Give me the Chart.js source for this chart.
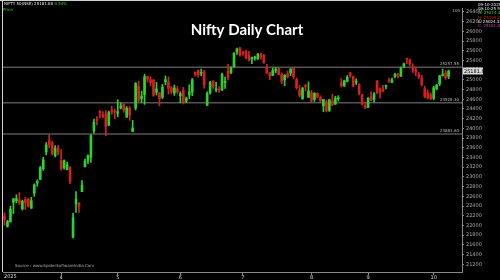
<!DOCTYPE html>
<html lang="en">
<head>
<meta charset="UTF-8">
<title>Nifty Daily Chart</title>
<script src="https://cdn.jsdelivr.net/npm/chart.js"></script>
<style>
    body { margin: 0; background: #000; }
    canvas { display: block; }
</style>
</head>
<body>
<canvas id="niftyChart" width="500" height="280"></canvas>
<script>
// trading days shown on the chart (Mar - Oct 2025)
const dates = [
    '2025-03-03','2025-03-04','2025-03-05','2025-03-06','2025-03-07','2025-03-10','2025-03-11','2025-03-12','2025-03-13','2025-03-17',
    '2025-03-18','2025-03-19','2025-03-20','2025-03-21','2025-03-24','2025-03-25','2025-03-26','2025-03-27','2025-03-28',
    '2025-04-01','2025-04-02','2025-04-03','2025-04-04','2025-04-07','2025-04-08','2025-04-09','2025-04-11','2025-04-15','2025-04-16',
    '2025-04-17','2025-04-21','2025-04-22','2025-04-23','2025-04-24','2025-04-25','2025-04-28','2025-04-29','2025-04-30',
    '2025-05-02','2025-05-05','2025-05-06','2025-05-07','2025-05-08','2025-05-09','2025-05-12','2025-05-13','2025-05-14','2025-05-15',
    '2025-05-16','2025-05-19','2025-05-20','2025-05-21','2025-05-22','2025-05-23','2025-05-26','2025-05-27','2025-05-28','2025-05-29','2025-05-30',
    '2025-06-02','2025-06-03','2025-06-04','2025-06-05','2025-06-06','2025-06-09','2025-06-10','2025-06-11','2025-06-12','2025-06-13',
    '2025-06-16','2025-06-17','2025-06-18','2025-06-19','2025-06-20','2025-06-23','2025-06-24','2025-06-25','2025-06-26','2025-06-27','2025-06-30',
    '2025-07-01','2025-07-02','2025-07-03','2025-07-04','2025-07-07','2025-07-08','2025-07-09','2025-07-10','2025-07-11','2025-07-14',
    '2025-07-15','2025-07-16','2025-07-17','2025-07-18','2025-07-21','2025-07-22','2025-07-23','2025-07-24','2025-07-25','2025-07-28',
    '2025-07-29','2025-07-30','2025-07-31',
    '2025-08-01','2025-08-04','2025-08-05','2025-08-06','2025-08-07','2025-08-08','2025-08-11','2025-08-12','2025-08-13','2025-08-14',
    '2025-08-18','2025-08-19','2025-08-20','2025-08-21','2025-08-22','2025-08-25','2025-08-26','2025-08-28','2025-08-29',
    '2025-09-01','2025-09-02','2025-09-03','2025-09-04','2025-09-05','2025-09-08','2025-09-09','2025-09-10','2025-09-11','2025-09-12',
    '2025-09-15','2025-09-16','2025-09-17','2025-09-18','2025-09-19','2025-09-22','2025-09-23','2025-09-24','2025-09-25','2025-09-26',
    '2025-09-29','2025-09-30',
    '2025-10-01','2025-10-03','2025-10-06','2025-10-07','2025-10-08','2025-10-09'
];
// empty slots on the right of the last candle
const futureDates = ['2025-10-10','2025-10-13','2025-10-14','2025-10-15'];

const opens = [
    22194,21974,22073,22476,22509,22522,22345,22536,22541,22354,22662,22875,22952,23169,23515,23751,23700,23433,23600,
    23342,23192,23150,23191,21758,22446,22460,22695,23207,23344,23401,23949,24185,24357,24277,24289,24070,24370,24342,
    24311,24420,24500,24233,24414,23936,24420,24864,24613,24694,25064,25005,24997,24744,24733,24639,24957,24956,24832,24729,24812,
    24669,24786,24561,24691,24748,25160,25196,25134,25164,24474,24732,24977,24788,24803,24787,24939,25179,25150,25268,25576,25661,
    25551,25588,25505,25428,25450,25427,25514,25511,25256,25149,25090,25196,25230,25108,24999,25127,25139,25243,25011,24783,24609,24891,24642,
    24734,24596,24720,24641,24464,24544,24372,24563,24497,24607,24938,24876,24965,25142,25065,24949,24900,24695,24466,
    24432,24653,24596,24980,24819,24802,24864,24991,24945,25074,25118,25074,25276,25441,25410,25238,25209,25108,25034,24818,24728,24691,
    24620,24815,24916,25085,25140,25074
];
const highs = [
    22261,22105,22394,22557,22633,22676,22522,22577,22558,22577,22857,22940,23216,23403,23708,23869,23736,23646,23649,
    23565,23350,23306,23214,22254,22698,22468,22923,23368,23452,23872,24189,24242,24359,24347,24365,24355,24457,24396,
    24589,24526,24510,24449,24447,24164,24944,24974,24767,25116,25071,25062,25010,24946,24737,24909,25079,25062,24864,24892,24863,
    24754,24845,24644,24899,25029,25160,25199,25223,25196,24754,24967,24982,24947,24863,25137,25057,25318,25266,25561,25654,25669,
    25593,25608,25587,25470,25489,25548,25548,25525,25322,25151,25245,25255,25238,25145,25111,25183,25233,25247,25035,24889,24847,24902,24957,
    24784,24736,24734,24671,24599,24585,24600,24702,24664,24674,25022,24994,25089,25154,25079,25021,24919,24702,24541,
    24636,24756,24737,24980,24833,24885,24891,25036,25037,25139,25140,25261,25346,25448,25429,25331,25262,25151,25093,24868,24791,24731,
    24869,24904,25095,25221,25192,25199
];
const lows = [
    22004,21964,22068,22245,22464,22429,22314,22329,22377,22353,22599,22808,22940,23133,23451,23601,23451,23412,23450,
    23136,23158,23145,22858,21743,22270,22270,22695,23207,23273,23298,23903,24073,24217,24216,23847,24054,24290,24198,
    24238,24400,24331,24220,24164,23936,24378,24547,24535,24494,24953,24875,24660,24685,24462,24614,24900,24704,24715,24678,24717,
    24527,24502,24530,24613,24672,25077,25055,25081,24825,24473,24703,24813,24750,24733,24783,24824,24999,25125,25267,25523,25489,
    25501,25429,25384,25331,25407,25424,25425,25340,25129,25001,25089,25145,25101,24918,24882,25036,25085,25018,24806,24646,24599,24771,24635,
    24535,24554,24627,24539,24344,24338,24347,24463,24496,24563,24852,24860,24957,25054,24859,24903,24689,24481,24404,
    24432,24567,24533,24707,24621,24751,24815,24945,24941,25038,25039,25072,25252,25330,25286,25151,25084,25027,24878,24629,24605,24588,
    24588,24797,24881,25076,25008,25024
];
const closes = [
    22119,22083,22337,22545,22552,22460,22497,22470,22397,22508,22834,22907,23190,23350,23658,23668,23486,23591,23519,
    23165,23332,23250,22904,22161,22535,22399,22828,23328,23437,23851,24125,24167,24328,24246,24039,24328,24336,24334,
    24346,24461,24380,24414,24273,24008,24924,24578,24666,25062,25019,24945,24683,24813,24609,24853,25001,24826,24752,24833,24750,
    24716,24543,24620,24751,25003,25103,25104,25141,24888,24718,24946,24853,24812,24793,25112,24971,25044,25244,25549,25637,25517,
    25541,25453,25405,25461,25461,25523,25476,25355,25150,25082,25196,25212,25111,24968,25091,25061,25220,25062,24837,24681,24821,24855,24768,
    24565,24723,24650,24574,24596,24363,24585,24487,24619,24631,24877,24980,25051,25083,24870,24967,24712,24501,24427,
    24625,24580,24715,24734,24741,24773,24869,24973,25005,25114,25069,25239,25330,25423,25327,25202,25169,25057,24891,24655,24634,24611,
    24836,24894,25077,25108,25046,25181.80
];

// price axis labels
const yTicks = [
    21200,21400,21600,21800,22000,22200,22400,22600,22800,23000,23200,23400,23600,
    23800,24000,24200,24400,24600,24800,25000,25200,25400,25600,25800,26000,26200,26400
];

// support / resistance lines drawn across the chart
const levels = [25257.55, 24528.30, 23883.60];

const yMin = 21040;
const yMax = 26480;

const GREEN = '#2fd12f';
const RED = '#d42020';

function candleColor(ctx) {
    const i = ctx.dataIndex;
    return closes[i] >= opens[i] ? GREEN : RED;
}

// first trading day of every month (after March)
function monthStarts() {
    const idx = [];
    for (let i = 1; i < dates.length; i++) {
        if (dates[i].slice(5, 7) !== dates[i - 1].slice(5, 7)) idx.push(i);
    }
    return idx;
}
const monthIdx = monthStarts();

const decor = {
    id: 'decor',
    beforeDraw(chart) {
        const c = chart.ctx;
        c.save();
        c.fillStyle = '#000';
        c.fillRect(0, 0, chart.width, chart.height);
        c.restore();
    },
    beforeDatasetsDraw(chart) {
        const c = chart.ctx, area = chart.chartArea, y = chart.scales.y;
        c.save();
        c.strokeStyle = '#555';
        c.lineWidth = 1.5;
        c.font = '4px "DejaVu Sans"';
        c.textAlign = 'right';
        c.fillStyle = '#bbb';
        levels.forEach(lv => {
            const py = y.getPixelForValue(lv);
            c.beginPath();
            c.moveTo(area.left, py);
            c.lineTo(area.right, py);
            c.stroke();
            c.fillText(lv.toFixed(2), area.right - 3, py - 2);
        });
        c.restore();
    },
    afterDraw(chart) {
        const c = chart.ctx, area = chart.chartArea, y = chart.scales.y;
        c.save();

        // frame
        c.strokeStyle = '#cfcfcf';
        c.lineWidth = 1;
        c.beginPath();
        c.moveTo(0, 0.5); c.lineTo(chart.width, 0.5);
        c.moveTo(2.5, 0); c.lineTo(2.5, area.bottom);
        c.stroke();

        // title
        c.fillStyle = '#fff';
        c.font = 'bold 15px Lato';
        c.textAlign = 'center';
        c.fillText('Nifty Daily Chart', 247, 35);

        // header
        c.textAlign = 'left';
        c.font = '4px "DejaVu Sans"';
        c.fillStyle = '#e8e8e8';
        const head = 'NIFTY 50(NSE) 25181.80 ';
        c.fillText(head, 4, 5);
        c.fillStyle = GREEN;
        c.fillText('0.54%', 4 + c.measureText(head).width, 5);
        c.fillText('Price', 3, 11);

        // ohlc read-out, top right
        const info = [
            ['09-10-2025', '#e8e8e8'],
            ['09:10:25 %', '#e8e8e8'],
            ['O: 25074.45', GREEN],
            ['H: 25199.25', RED],
            ['L: 25024.30', '#e8e8e8'],
            ['C: 25181.80', '#c040c0']
        ];
        info.forEach((row, k) => {
            c.fillStyle = row[1];
            c.fillText(row[0], 478, 6 + k * 4.2);
        });
        c.fillStyle = '#bbb';
        c.textAlign = 'right';
        c.fillText('100', 460, 12);

        // source
        c.textAlign = 'left';
        c.fillStyle = '#aaa';
        c.fillText('Source : www.SpiderSoftwareIndia.Com', 15, 267);
        c.font = '5px "DejaVu Sans"';
        c.fillStyle = '#ddd';
        c.fillText('2025', 4, 278);

        // last price marker on the axis
        const last = closes[closes.length - 1];
        const py = y.getPixelForValue(last);
        c.fillStyle = '#d8d8d8';
        c.fillRect(area.right + 1, py - 3.5, 20, 7);
        c.fillStyle = '#000';
        c.textBaseline = 'middle';
        c.fillText(last.toFixed(2), area.right + 2, py + 0.5);
        c.restore();
    }
};

new Chart(document.getElementById('niftyChart'), {
    type: 'bar',
    data: {
        labels: dates.concat(futureDates),
        datasets: [
            {
                label: 'Body',
                data: dates.map((d, i) => [Math.min(opens[i], closes[i]), Math.max(opens[i], closes[i])]),
                backgroundColor: candleColor,
                barThickness: 2,
                minBarLength: 1,
                grouped: false
            },
            {
                label: 'Wick',
                data: dates.map((d, i) => [lows[i], highs[i]]),
                backgroundColor: candleColor,
                barThickness: 1,
                grouped: false
            }
        ]
    },
    options: {
        responsive: false,
        devicePixelRatio: 1,
        animation: false,
        layout: { padding: { left: 3, top: 8, right: 0, bottom: 0 } },
        plugins: { legend: { display: false }, tooltip: { enabled: false } },
        scales: {
            x: {
                offset: true,
                grid: { offset: false, drawOnChartArea: false, drawTicks: true, tickLength: 3, color: '#888' },
                border: { color: '#888' },
                ticks: {
                    autoSkip: false,
                    maxRotation: 0,
                    padding: 0,
                    color: '#ddd',
                    font: { size: 5, family: 'DejaVu Sans' },
                    callback(value) {
                        return String(parseInt(this.getLabelForValue(value).slice(5, 7), 10));
                    }
                },
                afterBuildTicks(scale) {
                    scale.ticks = scale.ticks.filter(t => monthIdx.includes(t.value));
                },
                afterFit(scale) { scale.height = 8; }
            },
            y: {
                position: 'right',
                min: yMin,
                max: yMax,
                grid: { drawOnChartArea: false, drawTicks: true, tickLength: 2, color: '#888' },
                border: { color: '#888' },
                ticks: {
                    autoSkip: false,
                    padding: 2,
                    color: '#aaa',
                    font: { size: 5, family: 'DejaVu Sans' },
                    callback: v => String(v)
                },
                afterBuildTicks(scale) {
                    scale.ticks = yTicks.map(v => ({ value: v }));
                },
                afterFit(scale) { scale.width = 38; }
            }
        }
    },
    plugins: [decor]
});
</script>
</body>
</html>
